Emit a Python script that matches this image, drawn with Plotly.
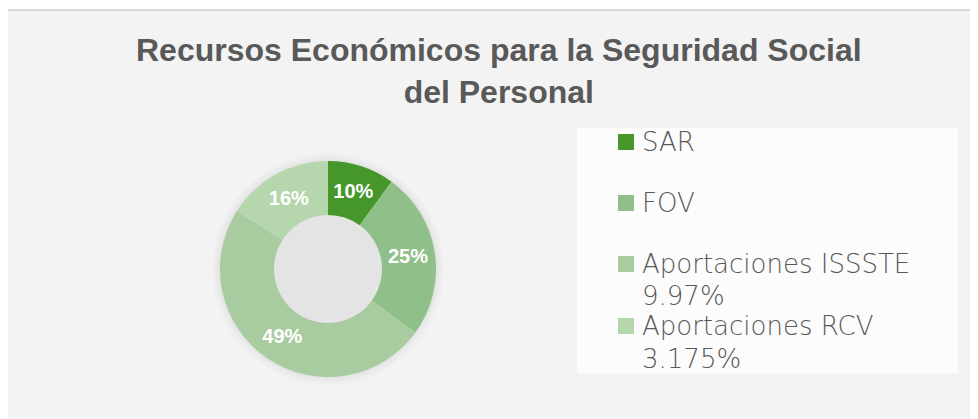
import plotly.graph_objects as go

# page body has an 8px default margin; the figure is sized to fit the window
OFF = 8
W, H = 978 - OFF, 419 - OFF

labels = ["SAR", "FOV", "Aportaciones ISSSTE 9.97%", "Aportaciones RCV 3.175%"]
legend_lines = [["SAR"], ["FOV"], ["Aportaciones ISSSTE", "9.97%"], ["Aportaciones RCV", "3.175%"]]
values = [10, 25, 49, 16]
colors = ["#45962b", "#8fc089", "#a8cca0", "#b6d6ae"]
title_text = "Recursos Económicos para la Seguridad Social<br>del Personal"


def px(x):
    return (x - OFF) / W


def py(y):
    return 1 - (y - OFF) / H


fig = go.Figure()

cx, cy, r = 328, 269, 108

fig.add_trace(go.Pie(
    labels=labels,
    values=values,
    hole=0.5,
    sort=False,
    direction="clockwise",
    rotation=0,
    marker=dict(colors=colors, line=dict(width=0)),
    textinfo="percent",
    texttemplate="%{percent:.0%}",
    textposition="inside",
    insidetextorientation="horizontal",
    textfont=dict(family="Liberation Sans, Arial", size=20, color="white", weight="bold"),
    domain=dict(x=[px(cx - r), px(cx + r)], y=[py(cy + r), py(cy - r)]),
    showlegend=False,
    hoverinfo="label+percent",
))

shapes = []
# chart area background + border
shapes.append(dict(type="rect", xref="paper", yref="paper",
                   x0=px(7), x1=px(975), y0=py(425), y1=py(10),
                   fillcolor="#f3f3f3", line=dict(color="#d9d9d9", width=2), layer="below"))
# legend box
shapes.append(dict(type="rect", xref="paper", yref="paper",
                   x0=px(577), x1=px(958), y0=py(373), y1=py(128),
                   fillcolor="#fcfcfc", line=dict(width=0), layer="below"))
# soft shadow around the donut (also tints the hole)
for dr, op in [(8, 0.016), (5, 0.02), (2, 0.024)]:
    shapes.append(dict(type="circle", xref="paper", yref="paper",
                       x0=px(cx - r - dr), x1=px(cx + r + dr),
                       y0=py(cy + r + dr), y1=py(cy - r - dr),
                       fillcolor=f"rgba(0,0,0,{op})", line=dict(width=0), layer="below"))

annotations = [dict(
    text=title_text, x=px(499), y=py(71), xref="paper", yref="paper",
    xanchor="center", yanchor="middle", showarrow=False,
    font=dict(family="Liberation Sans, Arial", size=32, color="#595959", weight="bold"),
)]

legend_y = [142, 203, 264, 326]
line_offsets = [[0], [0], [0, 32], [0, 33]]
for lines, offs, col, yc in zip(legend_lines, line_offsets, colors, legend_y):
    shapes.append(dict(type="rect", xref="paper", yref="paper",
                       x0=px(618), x1=px(634), y0=py(yc + 8), y1=py(yc - 8),
                       fillcolor=col, line=dict(width=0)))
    for ln, dy in zip(lines, offs):
        annotations.append(dict(
            text=ln, x=px(640), y=py(yc + dy), xref="paper", yref="paper",
            xanchor="left", yanchor="middle", showarrow=False,
            font=dict(family="DejaVu Sans", size=26, color="#595959", weight=200),
        ))

fig.update_layout(
    width=W, height=H, autosize=False,
    margin=dict(l=0, r=0, t=0, b=0),
    paper_bgcolor="white",
    plot_bgcolor="white",
    shapes=shapes,
    annotations=annotations,
)

fig.write_html("out.html")
